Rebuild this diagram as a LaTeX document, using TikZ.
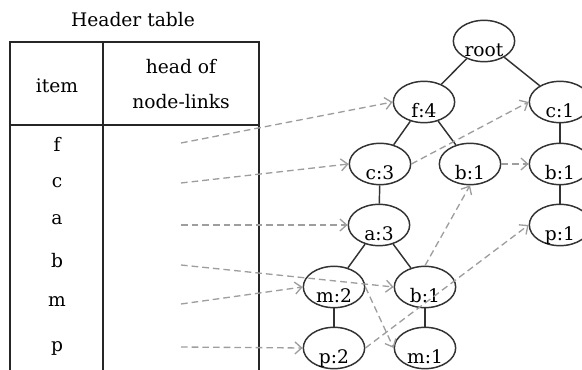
\documentclass[tikz,border=0pt]{standalone}
\usepackage{fontspec}
\setmainfont{DejaVu Serif}
\usetikzlibrary{arrows.meta, shapes.geometric}

\begin{document}
\begin{tikzpicture}[x=0.75pt, y=-0.75pt,
        every node/.style={font=\fontsize{14}{26}\selectfont},
        fp/.style={draw=black!80, ellipse, line width=1.1pt, minimum width=46pt,
        minimum height=31pt, inner sep=0pt, text height=0pt, text depth=0pt,
        execute at begin node={\lower12pt\hbox\bgroup},
        execute at end node={\egroup}},
        link/.style={draw=black!38, line width=1pt, dash pattern=on 5pt off 3pt,
        -{Straight Barb[length=5pt,width=9pt]}},
        tbl/.style={draw=black!85, line width=1.5pt}]
      \useasboundingbox (0,0) rectangle (582,370);
      % header table
      \node[anchor=base] (title) at (133,27) {Header table};
      \draw[tbl] (10,374) -- (10,42) -- (259,42) -- (259,374);
      \draw[tbl] (103,42) -- (103,374);
      \draw[tbl] (10,125) -- (259,125);
      \node[anchor=base] (item) at (57,93) {item};
      \node[align=center] (head) at (181,84) {head of\\node-links};
      \node[anchor=base] (rf) at (57,152) {f};
      \node[anchor=base] (rc) at (57,188) {c};
      \node[anchor=base] (ra) at (57,225) {a};
      \node[anchor=base] (rb) at (57,268) {b};
      \node[anchor=base] (rm) at (57,307) {m};
      \node[anchor=base] (rp) at (57,351) {p};
      \coordinate (hf) at (181,143);
      \coordinate (hc) at (181,183);
      \coordinate (ha) at (181,225);
      \coordinate (hb) at (181,265);
      \coordinate (hm) at (181,304);
      \coordinate (hp) at (181,347);
      % FP-tree
      \node[fp] (root) at (484,41) {root};
      \node[fp] (f4) at (424,102) {f:4};
      \node[fp] (c1) at (560,102) {c:1};
      \node[fp] (c3) at (380,164) {c:3};
      \node[fp] (b1) at (470,164) {b:1};
      \node[fp] (b1r) at (560,164) {b:1};
      \node[fp] (a3) at (379,225) {a:3};
      \node[fp] (p1) at (560,225) {p:1};
      \node[fp] (m2) at (334,287) {m:2};
      \node[fp] (b1a) at (425,287) {b:1};
      \node[fp] (p2) at (334,348) {p:2};
      \node[fp] (m1) at (425,348) {m:1};
      \begin{scope}[draw=black!80, line width=1.1pt]
        \draw (root) -- (f4);
        \draw (root) -- (c1);
        \draw (f4) -- (c3);
        \draw (f4) -- (b1);
        \draw (c1) -- (b1r);
        \draw (b1r) -- (p1);
        \draw (c3) -- (a3);
        \draw (a3) -- (m2);
        \draw (a3) -- (b1a);
        \draw (m2) -- (p2);
        \draw (b1a) -- (m1);
      \end{scope}
      % node-links
      \draw[link] (hf) -- (f4.west);
      \draw[link] (hc) -- (c3.west);
      \draw[link] (ha) -- (a3.west);
      \draw[link] (hb) -- (b1a.west);
      \draw[link] (hm) -- (m2.west);
      \draw[link] (hp) -- (p2.west);
      \draw[link] (c3.east) -- (c1.west);
      \draw[link] (b1.east) -- (b1r.west);
      \draw[link] (b1a.north) -- (b1.south);
      \draw[link] (m2.east) -- (m1.west);
      \draw[link] (p2.east) -- (p1.west);
    \end{tikzpicture}
\end{document}
